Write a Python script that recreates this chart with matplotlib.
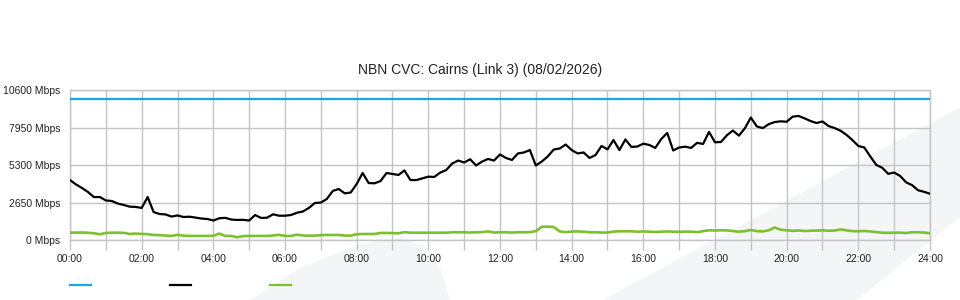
import numpy as np
import matplotlib.pyplot as plt
from matplotlib.lines import Line2D
from matplotlib.patches import Polygon
from matplotlib.ticker import MultipleLocator, FixedLocator

# traffic samples, every 10 minutes from 00:00 to 24:00 (Mbps)
traffic_in = [
    4250, 3940, 3690, 3410, 3050, 3050, 2810, 2770, 2590, 2490, 2370, 2350,
    2280, 3050, 1990, 1850, 1820, 1670, 1750, 1640, 1660, 1600, 1530, 1500,
    1390, 1550, 1580, 1460, 1430, 1440, 1390, 1780, 1570, 1590, 1830, 1730,
    1730, 1780, 1940, 2030, 2280, 2630, 2660, 2910, 3480, 3620, 3310, 3370,
    3970, 4750, 4040, 4020, 4180, 4750, 4680, 4610, 4930, 4250, 4250, 4370,
    4490, 4470, 4780, 4960, 5420, 5630, 5490, 5720, 5280, 5560, 5740, 5630,
    6060, 5810, 5670, 6130, 6200, 6370, 5280, 5560, 5920, 6410, 6480, 6760,
    6370, 6130, 6200, 5810, 6020, 6660, 6420, 7080, 6370, 7120, 6590, 6620,
    6820, 6730, 6520, 7150, 7580, 6340, 6550, 6610, 6520, 6880, 6800, 7650,
    6920, 6940, 7420, 7750, 7390, 7910, 8670, 8040, 7920, 8200, 8350, 8400,
    8370, 8730, 8780, 8610, 8420, 8280, 8390, 8070, 7930, 7740, 7450, 7080,
    6660, 6550, 5920, 5320, 5120, 4690, 4780, 4540, 4090, 3890, 3530, 3420,
    3280,
]

traffic_out = [
    530, 540, 540, 530, 490, 420, 510, 530, 530, 520, 440, 470,
    440, 430, 370, 360, 330, 300, 380, 320, 300, 300, 300, 300,
    310, 470, 300, 300, 210, 290, 300, 300, 300, 300, 330, 380,
    300, 300, 390, 330, 320, 320, 360, 370, 370, 370, 330, 320,
    420, 440, 440, 440, 510, 510, 500, 490, 570, 530, 530, 530,
    530, 530, 530, 530, 560, 560, 560, 540, 560, 570, 620, 540,
    560, 560, 540, 560, 560, 570, 640, 950, 960, 930, 620, 570,
    610, 620, 600, 560, 560, 540, 540, 610, 630, 630, 630, 600,
    620, 600, 580, 600, 620, 600, 590, 610, 600, 570, 640, 700,
    680, 700, 690, 650, 600, 640, 720, 640, 620, 700, 900, 740,
    700, 660, 690, 650, 670, 680, 700, 670, 680, 760, 700, 640,
    630, 650, 620, 570, 530, 520, 530, 530, 510, 560, 560, 540,
    490,
]

capacity_hours = [0, 24]
capacity = [10000, 10000]

y_ticks = [0, 2650, 5300, 7950, 10600]
y_labels = ["0 Mbps", "2650 Mbps", "5300 Mbps", "7950 Mbps", "10600 Mbps"]
x_ticks = list(range(0, 25, 2))
x_labels = ["%02d:00" % h for h in x_ticks]

title = "NBN CVC: Cairns (Link 3) (08/02/2026)"

plt.rcParams["font.family"] = ["Liberation Sans", "DejaVu Sans"]

BLUE = "#19a6e6"
GREEN = "#7cc02e"
GRID = "#c4c4c4"

fig = plt.figure(figsize=(9.6, 3.0), dpi=100)


def fx(px):
    return px / 960


def fy(py):
    return 1 - py / 300


# faint watermark shapes in the background
wm = "#f4f5f7"
fig.patches.append(Polygon(
    [(fx(250), fy(300)), (fx(300), fy(268)), (fx(360), fy(244)), (fx(400), fy(238)),
     (fx(425), fy(246)), (fx(442), fy(272)), (fx(450), fy(300))],
    closed=True, transform=fig.transFigure, facecolor=wm, edgecolor="none", zorder=-5))
fig.patches.append(Polygon(
    [(fx(603), fy(300)), (fx(960), fy(107)), (fx(960), fy(217)), (fx(857), fy(300))],
    closed=True, transform=fig.transFigure, facecolor=wm, edgecolor="none", zorder=-5))

ax = fig.add_axes([fx(70), fy(240.2), fx(930) - fx(70), (240.2 - 90.2) / 300])
ax.set_facecolor("none")
ax.set_zorder(2)

hours = np.arange(len(traffic_in)) * 10 / 60

ax.plot(capacity_hours, capacity, color=BLUE, lw=1.6, zorder=3)
ax.plot(hours, traffic_out, color=GREEN, lw=1.9, zorder=3)
ax.plot(hours, traffic_in, color="black", lw=1.6, zorder=4)

ax.set_xlim(0, 24)
ax.set_ylim(0, 10600)

ax.xaxis.set_major_locator(FixedLocator(x_ticks))
ax.set_xticklabels(x_labels)
ax.xaxis.set_minor_locator(MultipleLocator(1))
ax.set_yticks(y_ticks)
ax.set_yticklabels(y_labels)

ax.grid(True, which="both", color=GRID, lw=1.0, zorder=1)
ax.set_axisbelow(True)
ax.tick_params(axis="x", which="both", length=7, color=GRID, width=1.0,
               labelsize=7.5, pad=3, labelcolor="#222222")
ax.tick_params(axis="y", length=0, labelsize=7.5, pad=7, labelcolor="#222222")

for s in ax.spines.values():
    s.set_color(GRID)
    s.set_linewidth(1.0)

fig.text(0.5, fy(70), title, ha="center", va="center", fontsize=10, color="#222222")

# legend swatches (no labels)
for x0, c in [(70, BLUE), (170, "black"), (270, GREEN)]:
    fig.add_artist(Line2D([fx(x0), fx(x0 + 21)], [fy(285), fy(285)],
                          transform=fig.transFigure, color=c, lw=1.6))

fig.savefig("out.png", dpi=100)
